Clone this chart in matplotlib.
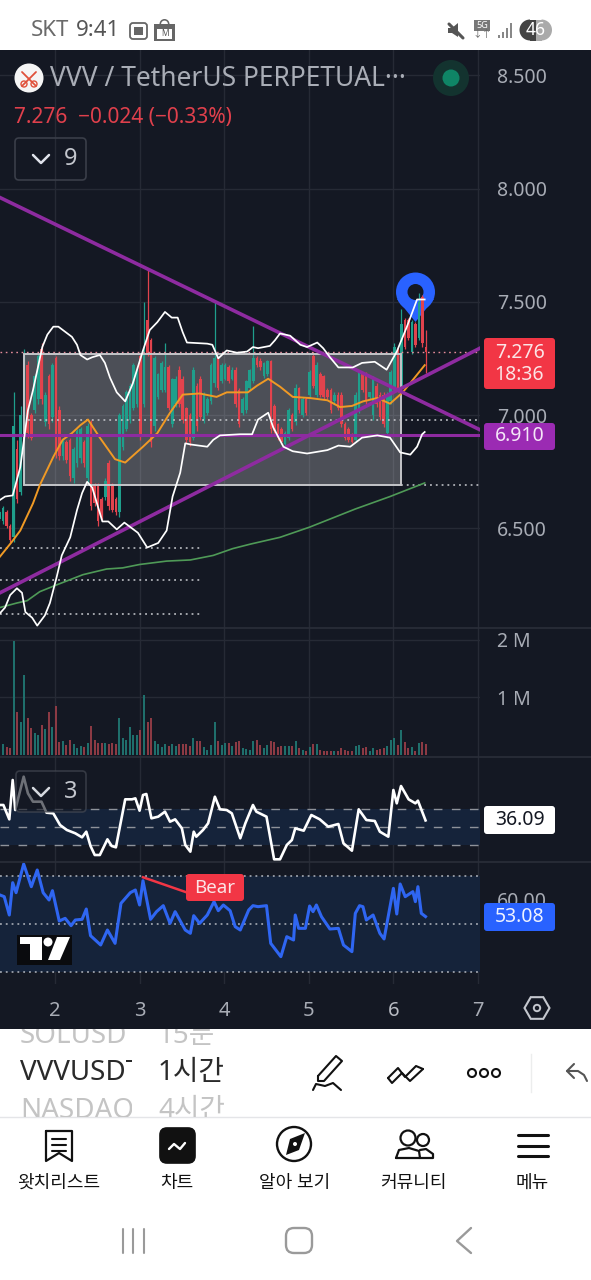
import matplotlib
matplotlib.use('Agg')
import math
import matplotlib.pyplot as plt
from matplotlib.patches import Rectangle, Circle, FancyBboxPatch, Polygon, RegularPolygon, Wedge
from matplotlib.transforms import Affine2D

plt.rcParams['font.family'] = ['Noto Sans', 'Noto Sans CJK KR', 'DejaVu Sans']

# hourly candles, x position is first day + i / 24
firstDay = 1.344
highs = [6.58, 6.60, 6.58, 6.52, 7.10, 6.89, 7.04, 7.29, 7.24, 7.01, 7.18, 7.27, 7.32, 7.10, 7.18, 7.23, 7.26, 7.04, 6.90, 6.89,
         6.90, 6.86, 6.94, 6.945, 6.89, 6.965, 6.98, 6.70, 6.70, 6.64, 6.72, 6.80, 6.70, 6.64, 7.01, 7.05, 7.11, 7.14, 7.23, 7.21,
         7.27, 7.50, 7.65, 7.34, 7.26, 7.185, 7.24, 7.32, 7.22, 7.165, 7.17, 7.215, 7.17, 7.035, 7.01, 7.21, 7.14, 7.17, 7.10, 7.08,
         7.23, 7.50, 7.255, 7.23, 7.23, 7.22, 7.21, 7.21, 7.12, 7.08, 7.155, 7.205, 7.395, 7.26, 7.25, 7.235, 7.245, 7.245, 7.05, 6.965,
         6.945, 6.93, 7.03, 7.01, 7.135, 7.125, 7.08, 7.08, 7.20, 7.28, 7.235, 7.19, 7.175, 7.12, 7.12, 7.10, 7.10, 7.10, 6.97, 6.945,
         6.92, 7.10, 7.20, 7.185, 7.19, 7.10, 7.17, 7.14, 7.10, 7.10, 7.10, 7.20, 7.32, 7.30, 7.47, 7.43, 7.43, 7.42, 7.41, 7.54,
         7.53, 7.375]
lows = [6.53, 6.52, 6.50, 6.44, 6.44, 6.61, 6.645, 6.70, 6.90, 6.89, 7.01, 7.05, 7.05, 6.95, 6.94, 6.97, 6.81, 6.80, 6.80, 6.79,
        6.71, 6.70, 6.77, 6.79, 6.77, 6.70, 6.58, 6.60, 6.51, 6.535, 6.625, 6.58, 6.57, 6.56, 6.55, 6.845, 6.93, 6.965, 7.02, 7.035,
        6.89, 7.035, 7.26, 6.86, 6.93, 7.07, 7.10, 7.10, 7.02, 6.945, 7.035, 7.035, 6.965, 6.875, 6.865, 6.89, 6.93, 6.98, 6.965, 7.0,
        7.05, 7.125, 7.11, 7.14, 7.155, 7.14, 7.155, 7.035, 6.945, 7.0, 7.01, 7.11, 7.14, 7.21, 7.20, 7.165, 7.17, 6.92, 6.92, 6.89,
        6.87, 6.86, 6.89, 6.93, 6.955, 7.01, 6.99, 7.0, 7.08, 7.12, 7.08, 7.08, 7.07, 7.07, 7.01, 7.05, 7.02, 6.945, 6.89, 6.88,
        6.875, 6.88, 7.01, 7.10, 7.05, 7.07, 6.98, 7.035, 6.98, 6.945, 6.90, 7.05, 7.10, 7.10, 7.11, 7.29, 7.33, 7.27, 7.30, 7.33,
        7.30, 7.185]
opens = [6.54, 6.53, 6.57, 6.51, 6.46, 6.85, 6.66, 6.75, 7.22, 7.00, 7.02, 7.07, 7.29, 6.97, 7.17, 6.99, 7.25, 7.02, 6.82, 6.88,
         6.89, 6.72, 6.79, 6.81, 6.88, 6.72, 6.97, 6.69, 6.69, 6.63, 6.64, 6.79, 6.69, 6.63, 6.57, 6.86, 6.94, 6.98, 7.03, 7.05,
         7.26, 7.05, 7.42, 7.33, 6.95, 7.08, 7.11, 7.11, 7.21, 6.96, 7.05, 7.20, 7.16, 7.03, 7.00, 6.90, 7.13, 7.16, 6.98, 7.01,
         7.06, 7.14, 7.25, 7.15, 7.16, 7.21, 7.16, 7.20, 7.11, 7.01, 7.02, 7.12, 7.15, 7.25, 7.24, 7.17, 7.18, 7.24, 7.04, 6.96,
         6.94, 6.87, 6.90, 7.00, 6.97, 7.12, 7.00, 7.07, 7.09, 7.26, 7.09, 7.18, 7.17, 7.11, 7.11, 7.06, 7.09, 7.09, 6.96, 6.94,
         6.91, 6.89, 7.02, 7.18, 7.18, 7.08, 7.00, 7.13, 7.09, 7.09, 6.92, 7.06, 7.11, 7.29, 7.12, 7.42, 7.42, 7.28, 7.40, 7.34,
         7.52, 7.30]
closes = [6.57, 6.59, 6.51, 6.45, 6.95, 6.63, 7.00, 7.26, 6.92, 6.90, 7.17, 7.26, 7.07, 7.09, 6.96, 7.22, 6.84, 6.82, 6.89, 6.80,
          6.73, 6.85, 6.93, 6.94, 6.79, 6.95, 6.60, 6.61, 6.53, 6.55, 6.71, 6.60, 6.58, 6.57, 7.00, 7.04, 7.10, 7.13, 7.22, 7.20,
          6.91, 7.29, 7.27, 6.88, 7.25, 7.18, 7.23, 7.21, 7.03, 7.16, 7.16, 7.05, 6.98, 6.89, 6.88, 7.20, 6.95, 6.99, 7.09, 7.07,
          7.22, 7.25, 7.12, 7.22, 7.22, 7.15, 7.20, 7.05, 6.96, 7.07, 7.15, 7.20, 7.25, 7.22, 7.21, 7.23, 7.24, 6.94, 6.93, 6.90,
          6.88, 6.92, 7.02, 6.94, 7.12, 7.02, 7.07, 7.01, 7.19, 7.13, 7.22, 7.09, 7.08, 7.08, 7.02, 7.09, 7.03, 6.96, 6.90, 6.89,
          6.88, 7.09, 7.19, 7.11, 7.06, 7.10, 7.16, 7.05, 6.99, 6.96, 7.09, 7.19, 7.30, 7.11, 7.40, 7.30, 7.34, 7.41, 7.31, 7.50,
          7.32, 7.276]
volumes = [0.18, 0.19, 0.15, 0.13, 1.98, 0.75, 0.58, 1.38, 0.65, 0.47, 0.39, 0.35, 0.52, 0.45, 0.74, 0.48, 0.86, 0.23, 0.25, 0.18,
           0.27, 0.20, 0.13, 0.16, 0.15, 0.21, 0.50, 0.27, 0.21, 0.22, 0.22, 0.19, 0.21, 0.19, 0.64, 0.29, 0.26, 0.49, 0.35, 0.35,
           0.43, 1.04, 0.58, 0.64, 0.24, 0.19, 0.15, 0.19, 0.16, 0.19, 0.16, 0.19, 0.19, 0.19, 0.16, 0.29, 0.24, 0.24, 0.14, 0.09,
           0.18, 0.58, 0.24, 0.18, 0.22, 0.22, 0.16, 0.23, 0.24, 0.13, 0.10, 0.09, 0.25, 0.27, 0.18, 0.13, 0.18, 0.24, 0.23, 0.15,
           0.16, 0.16, 0.16, 0.16, 0.24, 0.12, 0.09, 0.07, 0.14, 0.20, 0.19, 0.09, 0.08, 0.08, 0.08, 0.08, 0.08, 0.12, 0.09, 0.08,
           0.07, 0.16, 0.18, 0.13, 0.15, 0.08, 0.13, 0.09, 0.10, 0.13, 0.16, 0.26, 0.29, 0.17, 0.43, 0.23, 0.12, 0.14, 0.08, 0.21,
           0.23, 0.19]

upperDays = [1.35, 1.41, 1.50, 1.59, 1.68, 1.74, 1.85, 1.91, 1.98, 2.04, 2.20, 2.26, 2.30, 2.38, 2.44, 2.53, 2.59, 2.65, 2.73, 2.83,
             2.92, 3.04, 3.12, 3.21, 3.30, 3.38, 3.45, 3.51, 3.56, 3.80, 3.86, 3.93, 4.03, 4.15, 4.27, 4.34, 4.40, 4.54, 4.60, 4.66,
             4.78, 4.90, 4.98, 5.10, 5.17, 5.25, 5.35, 5.52, 5.63, 5.78, 5.92, 6.04, 6.16, 6.28, 6.37]
upperBand = [6.625, 6.64, 6.645, 6.77, 7.02, 7.11, 7.30, 7.355, 7.39, 7.39, 7.345, 7.31, 7.265, 7.245, 7.255, 7.265, 7.23, 7.165, 7.10, 7.06,
             7.14, 7.285, 7.375, 7.41, 7.455, 7.43, 7.43, 7.365, 7.32, 7.315, 7.31, 7.25, 7.285, 7.275, 7.28, 7.30, 7.295, 7.305, 7.33, 7.36,
             7.35, 7.31, 7.30, 7.32, 7.295, 7.255, 7.21, 7.21, 7.23, 7.235, 7.20, 7.28, 7.39, 7.51, 7.51]
lowerDays = [1.35, 1.41, 1.47, 1.55, 1.61, 1.65, 1.73, 1.79, 1.88, 1.94, 2.02, 2.08, 2.18, 2.26, 2.32, 2.38, 2.44, 2.56, 2.63, 2.73,
             2.82, 2.98, 3.09, 3.22, 3.32, 3.39, 3.48, 3.54, 3.60, 3.80, 3.87, 3.95, 4.19, 4.33, 4.40, 4.52, 4.58, 4.70, 4.81, 4.98,
             5.22, 5.35, 5.49, 5.63, 5.81, 5.96, 6.08, 6.20, 6.28, 6.34, 6.37]
lowerBand = [6.125, 6.15, 6.205, 6.235, 6.215, 6.13, 6.105, 6.07, 6.115, 6.17, 6.285, 6.38, 6.46, 6.58, 6.655, 6.705, 6.68, 6.53, 6.53, 6.495,
             6.525, 6.48, 6.415, 6.435, 6.49, 6.64, 6.745, 6.875, 6.87, 6.86, 6.89, 6.91, 6.915, 6.915, 6.98, 7.01, 6.945, 6.86, 6.84, 6.83,
             6.845, 6.865, 6.86, 6.90, 6.91, 6.90, 6.835, 6.825, 6.86, 6.915, 6.925]
orangeDays = [1.35, 1.49, 1.59, 1.74, 1.82, 1.98, 2.09, 2.20, 2.30, 2.39, 2.53, 2.71, 2.83, 3.04, 3.21, 3.36, 3.51, 3.71, 3.91, 4.03,
              4.28, 4.39, 4.52, 4.66, 4.81, 5.01, 5.22, 5.37, 5.51, 5.64, 5.81, 5.96, 6.11, 6.23, 6.37]
orangeMa = [6.375, 6.44, 6.49, 6.61, 6.69, 6.815, 6.89, 6.92, 6.955, 6.98, 6.90, 6.805, 6.79, 6.86, 6.92, 7.01, 7.09, 7.095, 7.08, 7.10,
            7.10, 7.13, 7.16, 7.125, 7.08, 7.075, 7.065, 7.035, 7.04, 7.06, 7.075, 7.05, 7.10, 7.155, 7.22]
greenDays = [1.35, 1.55, 1.67, 1.82, 2.02, 2.33, 2.61, 2.80, 3.00, 3.32, 3.60, 3.87, 4.10, 4.31, 4.66, 5.01, 5.55, 5.96, 6.37]
greenMa = [6.15, 6.17, 6.18, 6.22, 6.25, 6.295, 6.32, 6.325, 6.34, 6.355, 6.36, 6.38, 6.41, 6.43, 6.46, 6.505, 6.585, 6.64, 6.70]

whiteDays = [1.35, 1.39, 1.46, 1.50, 1.53, 1.63, 1.68, 1.74, 1.84, 1.90, 1.98, 2.06, 2.14, 2.24, 2.32, 2.37, 2.42, 2.47, 2.53, 2.62,
             2.67, 2.72, 2.83, 2.91, 2.95, 3.00, 3.04, 3.08, 3.14, 3.22, 3.30, 3.36, 3.42, 3.50, 3.54, 3.60, 3.64, 3.67, 3.75, 3.81,
             3.89, 3.95, 4.03, 4.09, 4.19, 4.25, 4.34, 4.38, 4.50, 4.59, 4.66, 4.74, 4.80, 4.84, 4.94, 5.03, 5.13, 5.23, 5.35, 5.41,
             5.51, 5.59, 5.68, 5.78, 5.84, 5.94, 6.00, 6.04, 6.09, 6.18, 6.26, 6.29, 6.38]
whiteOsc = [41.23, 41.23, 36.45, 49.56, 39.56, 50.67, 45.12, 42.34, 42.34, 38.67, 38.45, 34.56, 32.9, 31.79, 30.45, 32.34, 27.56, 24.56, 24.56, 29.79,
            27.56, 27.12, 43.12, 43.12, 43.45, 39.34, 44.56, 44.9, 36.79, 37.34, 39.0, 35.67, 36.45, 33.45, 27.9, 25.67, 32.34, 30.67, 32.9, 35.12,
            44.0, 39.79, 39.56, 38.45, 30.12, 35.12, 41.23, 39.0, 37.34, 23.12, 23.12, 27.9, 29.56, 33.45, 32.67, 37.9, 36.45, 34.0, 34.9, 28.45,
            26.0, 39.79, 36.23, 35.9, 32.34, 30.67, 46.23, 41.79, 47.56, 43.12, 41.79, 42.67, 36.09]
blueDays = [1.35, 1.40, 1.46, 1.50, 1.54, 1.63, 1.72, 1.79, 1.86, 1.93, 1.97, 2.05, 2.12, 2.19, 2.24, 2.32, 2.37, 2.42, 2.54, 2.62,
            2.71, 2.78, 2.89, 2.95, 3.00, 3.04, 3.13, 3.20, 3.28, 3.36, 3.42, 3.54, 3.60, 3.64, 3.71, 3.80, 3.88, 3.93, 3.99, 4.07,
            4.13, 4.19, 4.29, 4.34, 4.40, 4.50, 4.55, 4.67, 4.74, 4.82, 4.84, 4.88, 4.96, 5.01, 5.05, 5.09, 5.15, 5.25, 5.35, 5.41,
            5.51, 5.55, 5.60, 5.64, 5.68, 5.76, 5.84, 5.89, 6.00, 6.04, 6.08, 6.14, 6.23, 6.26, 6.29, 6.33, 6.38]
blueRsi = [62.04, 61.34, 53.73, 67.15, 63.0, 74.9, 65.49, 72.41, 63.0, 59.96, 63.83, 51.25, 52.35, 49.31, 51.66, 51.94, 56.22, 45.16, 41.29, 47.51,
           41.98, 58.58, 63.0, 64.11, 57.89, 67.98, 51.94, 55.12, 57.61, 50.28, 55.12, 47.51, 46.13, 53.46, 50.28, 53.73, 59.27, 55.53, 57.89, 55.53,
           48.89, 47.51, 55.81, 57.61, 57.19, 57.61, 41.98, 36.45, 44.74, 43.36, 53.73, 48.2, 48.2, 57.47, 55.12, 57.89, 53.04, 47.92, 48.2, 41.29,
           38.52, 54.42, 57.61, 57.19, 51.66, 53.73, 46.13, 43.78, 64.8, 54.15, 66.6, 61.34, 63.42, 59.27, 65.49, 54.42, 53.08]

trendDays = [1.35, 7.05]
fallingLine = [7.96, 6.93]
risingLine = [6.215, 7.30]
lastPrice = 7.276
supportPrice = 6.91
boxDays = [1.63, 6.09]
boxPrices = [6.69, 7.27]
priceTicks = [6.5, 7.0, 7.5, 8.0, 8.5]
volumeTicks = [1, 2]
dayTicks = [2, 3, 4, 5, 6, 7]

bgColor = '#141823'
gridColor = '#262a35'
upColor = '#1f9f8c'
downColor = '#e2434d'
upVolColor = '#1f6f6c'
downVolColor = '#8c3a44'
purple = '#8e2ba0'
textGray = '#a8acb5'
bandColor = '#15233a'

fig = plt.figure(figsize=(5.91, 12.8), dpi=100, facecolor=bgColor)

def panel(top, bottom):
    ax = fig.add_axes([0, (1280 - bottom) / 1280, 480 / 591, (bottom - top) / 1280], facecolor=bgColor)
    ax.set_xlim(1.35, 7.0238)
    for spine in ax.spines.values():
        spine.set_visible(False)
    ax.set_xticks(dayTicks)
    ax.grid(True, color=gridColor, linewidth=1.0)
    ax.set_axisbelow(True)
    ax.yaxis.tick_right()
    ax.tick_params(axis='both', length=0, labelcolor=textGray, labelsize=14, pad=12)
    ax.tick_params(axis='x', labelbottom=False)
    return ax

# pixel transform for things that sit at a fixed place on the phone screen
pixelTrans = Affine2D().scale(1, -1).translate(0, 1280)

# ----- price panel
ax = panel(50, 628)
ax.set_ylim(6.0596, 8.6115)
ax.set_yticks(priceTicks)
ax.set_yticklabels([f'{p:.3f}' for p in priceTicks])

ax.add_patch(Rectangle((boxDays[0], boxPrices[0]), boxDays[1] - boxDays[0], boxPrices[1] - boxPrices[0],
                       facecolor='white', alpha=0.24, edgecolor='none', zorder=2))
ax.add_patch(Rectangle((boxDays[0], boxPrices[0]), boxDays[1] - boxDays[0], boxPrices[1] - boxPrices[0],
                       facecolor='none', edgecolor='#c4c5c9', linewidth=1.4, zorder=5))

barDays = [firstDay + i / 24 for i in range(len(closes))]
barColors = [upColor if c >= o else downColor for o, c in zip(opens, closes)]
ax.vlines(barDays, lows, highs, colors=barColors, linewidth=0.9, zorder=3)
ax.bar(barDays, [abs(c - o) for o, c in zip(opens, closes)], bottom=[min(o, c) for o, c in zip(opens, closes)],
       width=2.6 / 84.6, color=barColors, zorder=3)

dots = (0, (1.2, 2.6))
ax.plot([1.35, 7.05], [lastPrice, lastPrice], color='#e58c9a', linewidth=1.0, linestyle=dots, zorder=4)
ax.plot([1.68, 7.05], [6.98, 6.98], color='#c9cbd0', linewidth=1.1, linestyle=dots, zorder=4)
ax.plot([6.09, 7.05], [6.69, 6.69], color='#c9cbd0', linewidth=1.1, linestyle=dots, zorder=4)
for level in [6.415, 6.27, 6.12]:
    ax.plot([1.35, 3.72], [level, level], color='#c9cbd0', linewidth=1.1, linestyle=dots, zorder=4)

ax.plot(greenDays, greenMa, color='#4f9a57', linewidth=1.2, zorder=6)
ax.plot(orangeDays, orangeMa, color='#f09a25', linewidth=1.4, zorder=6)
ax.plot(trendDays, fallingLine, color=purple, linewidth=2.6, zorder=7)
ax.plot(trendDays, risingLine, color=purple, linewidth=2.6, zorder=7)
ax.plot([1.35, 7.05], [supportPrice, supportPrice], color=purple, linewidth=2.2, zorder=7)
ax.plot(upperDays, upperBand, color='white', linewidth=1.25, zorder=8)
ax.plot(lowerDays, lowerBand, color='white', linewidth=1.25, zorder=8)

# map pin behind the candles
ax.add_patch(Polygon([(397, 299), (434, 299), (415.5, 322)], closed=True, facecolor='#2962ff', transform=pixelTrans, zorder=1))
ax.add_patch(Circle((415.5, 292), 19.5, facecolor='#2962ff', transform=pixelTrans, zorder=1))
ax.add_patch(Circle((415.5, 292), 8, facecolor=bgColor, transform=pixelTrans, zorder=1))

# ----- volume panel
axVol = panel(628, 757)
axVol.set_ylim(-0.03, 2.2)
axVol.set_yticks(volumeTicks)
axVol.set_yticklabels([f'{v} M' for v in volumeTicks])
volColors = [upVolColor if c >= o else downVolColor for o, c in zip(opens, closes)]
axVol.bar(barDays, volumes, width=2.0 / 84.6, color=volColors, zorder=3)

# ----- oscillator panel
axOsc = panel(757, 862)
axOsc.set_ylim(22.23, 57.23)
axOsc.set_yticks([30])
axOsc.set_yticklabels([''])
axOsc.axhspan(28, 40, facecolor=bandColor, zorder=1)
for level in [28, 34, 40]:
    axOsc.axhline(level, color='#8e929a', linewidth=1.0, linestyle=(0, (6.2, 6.8)), zorder=2)
axOsc.plot(whiteDays, whiteOsc, color='white', linewidth=1.9, zorder=4)

# ----- rsi panel
axRsi = panel(862, 984)
axRsi.set_ylim(25.1, 75.73)
axRsi.set_yticks([60])
axRsi.set_yticklabels(['60.00'])
axRsi.axhspan(30, 70, facecolor=bandColor, zorder=1)
for level in [30, 50, 70]:
    axRsi.axhline(level, color='#b4b8c0', linewidth=1.1, linestyle=dots, zorder=2)
axRsi.plot(blueDays, blueRsi, color='#2f66f2', linewidth=2.2, zorder=4)
axRsi.plot([3.04, 3.55], [69.4, 63.2], color='#f23645', linewidth=1.8, zorder=5)
axRsi.tick_params(axis='x', labelbottom=True, pad=12, labelsize=14.5)
axRsi.set_xticklabels([str(d) for d in dayTicks])
axRsi.get_xticklabels()[4].set_fontweight('bold')
axRsi.get_xticklabels()[4].set_color('#b8bbc3')

# ----- phone screen furniture, in pixels
ov = fig.add_axes([0, 0, 1, 1], zorder=10)
ov.set_xlim(0, 591)
ov.set_ylim(1280, 0)
ov.axis('off')
ov.patch.set_visible(False)

def label(x, y, s, size=14, color='#222222', ha='left', weight='normal', zorder=20):
    return ov.text(x, y, s, fontsize=size, color=color, ha=ha, va='center', fontweight=weight, zorder=zorder)

def tag(x0, y0, x1, y1, color):
    ov.add_patch(FancyBboxPatch((x0 + 2, y0 + 2), x1 - x0 - 4, y1 - y0 - 4, boxstyle='round,pad=2,rounding_size=3',
                                facecolor=color, edgecolor='none', zorder=12))

def stroke(xs, ys, color='#111111', width=1.5, zorder=20):
    ov.plot(xs, ys, color=color, linewidth=width, solid_capstyle='round', solid_joinstyle='round', zorder=zorder)

def lineBox(x0, y0, x1, y1, edge, face='none', width=1.2, radius=4, alpha=None):
    ov.add_patch(FancyBboxPatch((x0 + radius, y0 + radius), x1 - x0 - 2 * radius, y1 - y0 - 2 * radius,
                                boxstyle=f'round,pad={radius},rounding_size={radius}', facecolor=face, edgecolor=edge,
                                linewidth=width, alpha=alpha, zorder=15))

ov.add_patch(Rectangle((0, 0), 591, 50, facecolor='white', edgecolor='none', zorder=11))
ov.add_patch(Rectangle((0, 1029), 591, 251, facecolor='white', edgecolor='none', zorder=11))
for y in [628, 757, 862]:
    ov.plot([0, 591], [y, y], color='#2a2e39', linewidth=1.2, zorder=9)

# header
label(31, 31, 'SKT', 16, '#6a6a6a')
label(76, 31, '9:41', 16, '#555555', weight='medium')
lineBox(130, 23, 147, 39, '#666666', width=1.3, radius=3)
ov.add_patch(Rectangle((134, 27), 9, 8, facecolor='#666666', zorder=16))
ov.add_patch(Rectangle((154, 24), 21, 17, facecolor='#666666', zorder=15))
ov.add_patch(Rectangle((157, 29), 15, 10, facecolor='white', zorder=16))
label(164.5, 34, 'M', 6, '#555555', ha='center')
ov.add_patch(Wedge((164.5, 24), 5, 180, 0, width=1.6, facecolor='#666666', zorder=15))
stroke([449, 463], [24, 38], '#555555', 2.2)
ov.add_patch(Polygon([(448, 28), (452, 28), (458, 23), (458, 37), (452, 33), (448, 33)], facecolor='#555555', zorder=15))
ov.add_patch(Rectangle((474, 20), 16, 11, facecolor='#777777', zorder=15))
label(482, 25.5, '5G', 6.5, 'white', ha='center', weight='bold')
label(482, 35, '↓↑', 7, '#666666', ha='center')
for bx, bh in zip([498, 502, 506, 510], [3, 6, 10, 15]):
    ov.add_patch(Rectangle((bx, 38 - bh), 1.6, bh, facecolor='#888888', zorder=15))
ov.add_patch(Wedge((530, 30), 10.5, 90, 270, facecolor='#444444', zorder=15))
ov.add_patch(Rectangle((530, 19.5), 6, 21, facecolor='#444444', zorder=15))
ov.add_patch(Rectangle((536, 19.5), 6, 21, facecolor='#aaaaaa', zorder=15))
ov.add_patch(Wedge((541.5, 30), 10.5, 270, 90, facecolor='#aaaaaa', zorder=15))
label(535.5, 30, '46', 12.5, 'white', ha='center', weight='bold')

# symbol line
ov.add_patch(Circle((29, 78), 14.5, facecolor='#f5f5f5', zorder=15))
stroke([22, 36], [72, 86], '#e0503a', 1.3)
stroke([36, 22], [72, 86], '#e0503a', 1.3)
ov.add_patch(Circle((24, 84), 3, facecolor='none', edgecolor='#e0503a', linewidth=1, zorder=20))
ov.add_patch(Circle((34, 84), 3, facecolor='none', edgecolor='#e0503a', linewidth=1, zorder=20))
label(50, 79, 'VVV / TetherUS PERPETUAL···', 19, '#a9adb6')
ov.add_patch(Circle((451, 78), 18, facecolor='#13332f', zorder=15))
ov.add_patch(Circle((451, 78), 8.5, facecolor='#0f8566', zorder=16))
label(14, 117, '7.276  −0.024 (−0.33%)', 15, '#e0404c')

lineBox(15, 138, 86, 180, '#3a3e49', width=1.2)
stroke([33, 41, 49], [155, 163, 155], '#e0e3eb', 1.8)
label(71, 159, '9', 17, '#c3c6cd', ha='center')

lineBox(16, 771, 86, 812, '#4a4e58', face=bgColor, width=1.2, alpha=0.62)
stroke([33, 41, 49], [788, 796, 788], '#d5d8df', 1.8)
label(71, 792, '3', 17, '#c3c6cd', ha='center')

# last value tags
tag(484, 338, 555, 389, '#f23645')
label(519.5, 353, '7.276', 14, '#fbe4e6', ha='center')
label(519.5, 375, '18:36', 14, '#fbe4e6', ha='center')
tag(484, 423, 555, 450, '#9b2bb3')
label(519.5, 436, '6.910', 14, '#f4e6f7', ha='center')
tag(484, 806, 555, 834, 'white')
label(519.5, 820, '36.09', 14, '#131722', ha='center')
tag(484, 903, 555, 931, '#2962ff')
label(519.5, 917, '53.08', 14, '#eef2ff', ha='center')

tag(186, 874, 244, 901, '#f23645')
label(215, 888, 'Bear', 13.5, '#fbe4e6', ha='center')

# watermark
ov.add_patch(Rectangle((17, 935), 55, 30, facecolor='#0a0b0e', zorder=12))
ov.add_patch(Polygon([(20, 937), (42, 937), (42, 960), (30, 960), (30, 944), (20, 944)], facecolor='white', zorder=13))
ov.add_patch(Circle((48, 942), 4.5, facecolor='white', zorder=13))
ov.add_patch(Polygon([(57, 937), (70, 937), (60, 960), (48, 960)], facecolor='white', zorder=13))

# settings hexagon on the time axis
ov.add_patch(RegularPolygon((537, 1008), 6, radius=12.5, orientation=math.pi / 2, facecolor='none', edgecolor='#c4c7ce',
                            linewidth=1.5, zorder=15))
ov.add_patch(Circle((537, 1008), 3.2, facecolor='none', edgecolor='#c4c7ce', linewidth=1.4, zorder=15))

# symbol picker row, names are cut off at the column edge
clipRow = Rectangle((0, 1029), 132, 88, transform=ov.transData)
for x, y, s, color, weight in [(20, 1036, 'SOLUSDT', '#c4c4c4', 'normal'), (20, 1073, 'VVVUSDT', '#2a2a2a', 'medium'),
                               (20, 1111, 'NASDAQ', '#c4c4c4', 'normal')]:
    t = label(x, y, s, 20, color, weight=weight)
    t.set_clip_path(clipRow)
    t.set_clip_on(True)
clipRow2 = Rectangle((150, 1029), 90, 88, transform=ov.transData)
for x, y, s, color, weight in [(158, 1036, '15분', '#c4c4c4', 'normal'), (158, 1073, '1시간', '#2a2a2a', 'medium'),
                               (158, 1111, '4시간', '#c4c4c4', 'normal')]:
    t = label(x, y, s, 20, color, weight=weight)
    t.set_clip_path(clipRow2)
    t.set_clip_on(True)
ov.plot([0, 591], [1117, 1117], color='#e4e5e8', linewidth=1.0, zorder=14)
ov.plot([531, 531], [1054, 1092], color='#eceded', linewidth=1.0, zorder=14)

# drawing tools
stroke([318, 336, 342, 324, 318, 318], [1076, 1056, 1061, 1081, 1081, 1076], '#111111', 1.5)
stroke([313, 316, 325, 333, 341], [1090, 1084, 1086, 1083, 1090], '#111111', 1.5)
stroke([388, 398, 405, 416, 423], [1078, 1068, 1077, 1066, 1069], '#111111', 1.5)
stroke([388, 392, 402, 410, 423], [1078, 1083, 1073, 1081, 1069], '#111111', 1.5)
for cx in [472, 484, 496]:
    ov.add_patch(Circle((cx, 1073), 4, facecolor='none', edgecolor='#111111', linewidth=1.5, zorder=20))
stroke([587, 584, 578, 567], [1081, 1075, 1071, 1071], '#555555', 1.5)
stroke([574, 567, 574], [1064, 1071, 1078], '#555555', 1.5)

# bottom navigation
stroke([46, 72, 72, 59, 46, 46], [1131, 1131, 1161, 1153, 1161, 1131], '#111111', 1.6)
for y in [1139, 1145, 1151]:
    stroke([52, 66], [y, y], '#111111', 1.5)
lineBox(160, 1128, 195, 1163, '#111111', face='#111111', radius=7)
stroke([169, 174, 180, 185], [1149, 1144, 1149, 1143], 'white', 1.7, zorder=21)
ov.add_patch(Circle((294, 1144), 17, facecolor='none', edgecolor='#111111', linewidth=1.7, zorder=20))
ov.add_patch(Polygon([(305, 1133), (299, 1150), (286, 1155), (290, 1139)], facecolor='#111111', zorder=20))
ov.add_patch(Circle((295, 1144), 2, facecolor='white', zorder=21))
ov.add_patch(Circle((408, 1138), 7.5, facecolor='none', edgecolor='#111111', linewidth=1.6, zorder=20))
ov.add_patch(Circle((423, 1140), 6, facecolor='none', edgecolor='#111111', linewidth=1.6, zorder=20))
stroke([396, 399, 409, 419, 420, 396], [1158, 1150, 1148, 1151, 1158, 1158], '#111111', 1.6)
stroke([420, 426, 433, 433, 420], [1150, 1149, 1154, 1158, 1158], '#111111', 1.6)
for y in [1135, 1146, 1156]:
    stroke([518, 548], [y, y], '#111111', 2.2)
for cx, s in zip([59, 177, 295, 413, 532], ['왓치리스트', '차트', '알아 보기', '커뮤니티', '메뉴']):
    label(cx, 1183, s, 13, '#111111', ha='center')

# android buttons
for x in [123, 133, 144]:
    stroke([x, x], [1229, 1253], '#9a9a9a', 1.5)
lineBox(286, 1228, 312, 1253, '#9a9a9a', radius=8, width=1.7)
stroke([471, 457, 471], [1228, 1241, 1253], '#9a9a9a', 1.7)

plt.savefig('out.png', dpi=100, facecolor=fig.get_facecolor())
